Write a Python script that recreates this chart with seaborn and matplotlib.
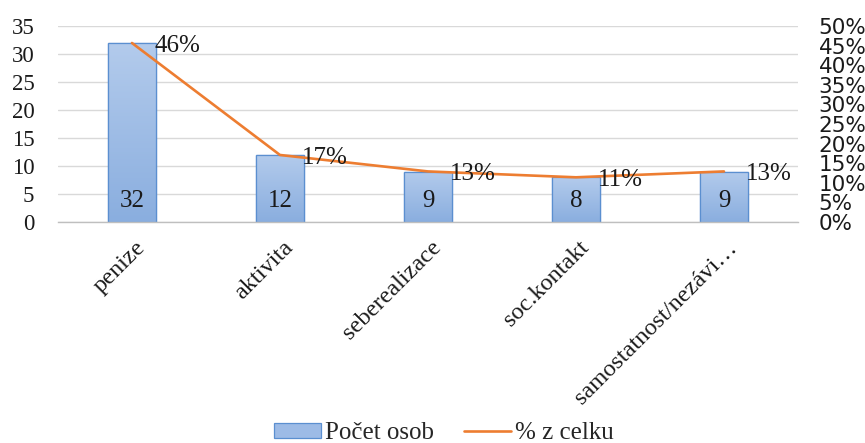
import numpy as np
import pandas as pd
import matplotlib
matplotlib.use("Agg")
import matplotlib.pyplot as plt
import seaborn as sns
from matplotlib.colors import LinearSegmentedColormap
from matplotlib.patches import Patch
from matplotlib.lines import Line2D
from matplotlib.transforms import ScaledTranslation

categories = ["penize", "aktivita", "seberealizace", "soc.kontakt", "samostatnost/nezávi…"]
counts = [32, 12, 9, 8, 9]
share_pct = [45.7, 17.1, 12.9, 11.4, 12.9]
left_ticks = [0, 5, 10, 15, 20, 25, 30, 35]
right_ticks = [0, 5, 10, 15, 20, 25, 30, 35, 40, 45, 50]

sns.set_theme(style="white")
plt.rcParams["font.family"] = ["Liberation Serif", "DejaVu Serif"]
ink = "#1a1a1a"
orange = "#ED7D31"

df = pd.DataFrame({"kategorie": categories, "pocet": counts, "podil": share_pct})

fig = plt.figure(figsize=(8.65, 4.43), dpi=100)
ax = fig.add_axes([0.067, 0.499, 0.8555, 0.442])

sns.barplot(data=df, x="kategorie", y="pocet", ax=ax, width=0.325,
            color="#9dbbe6", edgecolor="#5b8fd0", linewidth=0.9, zorder=2)

# vertical gradient fill clipped to each bar
grad = LinearSegmentedColormap.from_list("g", ["#8aaedf", "#b3cbec"])
for p in list(ax.patches):
    x0, y0 = p.get_x(), p.get_y()
    w, h = p.get_width(), p.get_height()
    img = ax.imshow(np.linspace(0, 1, 100).reshape(-1, 1), cmap=grad,
                    extent=[x0, x0 + w, y0, y0 + h], origin="lower",
                    aspect="auto", zorder=2.1)
    img.set_clip_path(p)
    edge = plt.Rectangle((x0, y0), w, h, fill=False, edgecolor="#5b8fd0",
                         linewidth=0.9, zorder=2.2)
    ax.add_patch(edge)

ax.set_xlim(-0.5, len(categories) - 0.5)
ax.set_ylim(0, 35)
ax.set_yticks(left_ticks)
ax.set_yticklabels([str(t) for t in left_ticks], fontsize=16.5, color=ink)
ax.yaxis.grid(True, color="#d9d9d9", linewidth=1.0, zorder=0)
ax.set_axisbelow(True)
ax.tick_params(axis="y", length=0, pad=17)
ax.set_xlabel("")
ax.set_ylabel("")

# category boundary ticks on the x axis
ax.set_xticks(np.arange(-0.5, len(categories), 1.0), minor=True)
ax.tick_params(axis="x", which="minor", length=5, color="#bfbfbf", width=1)
ax.tick_params(axis="x", which="major", length=0, pad=11)
ax.set_xticks(np.arange(len(categories)))
ax.set_xticklabels(categories, rotation=45, ha="right", va="top",
                   rotation_mode="anchor", fontsize=17.5, color=ink)
shift = ScaledTranslation(2 / 72, 0, fig.dpi_scale_trans)
for lbl in ax.get_xticklabels():
    lbl.set_transform(lbl.get_transform() + shift)
for side in ["left", "right", "top"]:
    ax.spines[side].set_visible(False)
ax.spines["bottom"].set_color("#bfbfbf")
ax.spines["bottom"].set_linewidth(1)

# count labels inside the bars
for i, v in enumerate(counts):
    ax.text(i, 3.7, str(v), ha="center", va="center", fontsize=18, color=ink, zorder=4)

ax2 = ax.twinx()
sns.lineplot(x=np.arange(len(categories)), y=np.array(share_pct) / 100, ax=ax2,
             color=orange, linewidth=1.9, sort=False, zorder=3)
ax2.set_ylim(0, 0.5)
ax2.set_yticks([t / 100 for t in right_ticks])
ax2.set_yticklabels([f"{t}%" for t in right_ticks], fontsize=15.5, color=ink,
                    family=["DejaVu Sans"])
ax2.tick_params(axis="y", length=0, pad=15)
ax2.set_ylabel("")
for side in ["left", "right", "top", "bottom"]:
    ax2.spines[side].set_visible(False)

for i, v in enumerate(share_pct):
    ax2.annotate(f"{round(v)}%", (i, v / 100), xytext=(16, -2),
                 textcoords="offset points", ha="left", va="center",
                 fontsize=18, color=ink)

handles = [Patch(facecolor="#9dbbe6", edgecolor="#5b8fd0", linewidth=0.9),
           Line2D([0], [0], color=orange, linewidth=1.9)]
fig.legend(handles, ["Počet osob", "% z celku"], loc="center",
           bbox_to_anchor=(0.513, 0.022), ncol=2, frameon=False, fontsize=18,
           handlelength=1.9, handleheight=0.55, handletextpad=0.15, columnspacing=1.2,
           borderpad=0.1)

fig.savefig("out.png", dpi=100)
